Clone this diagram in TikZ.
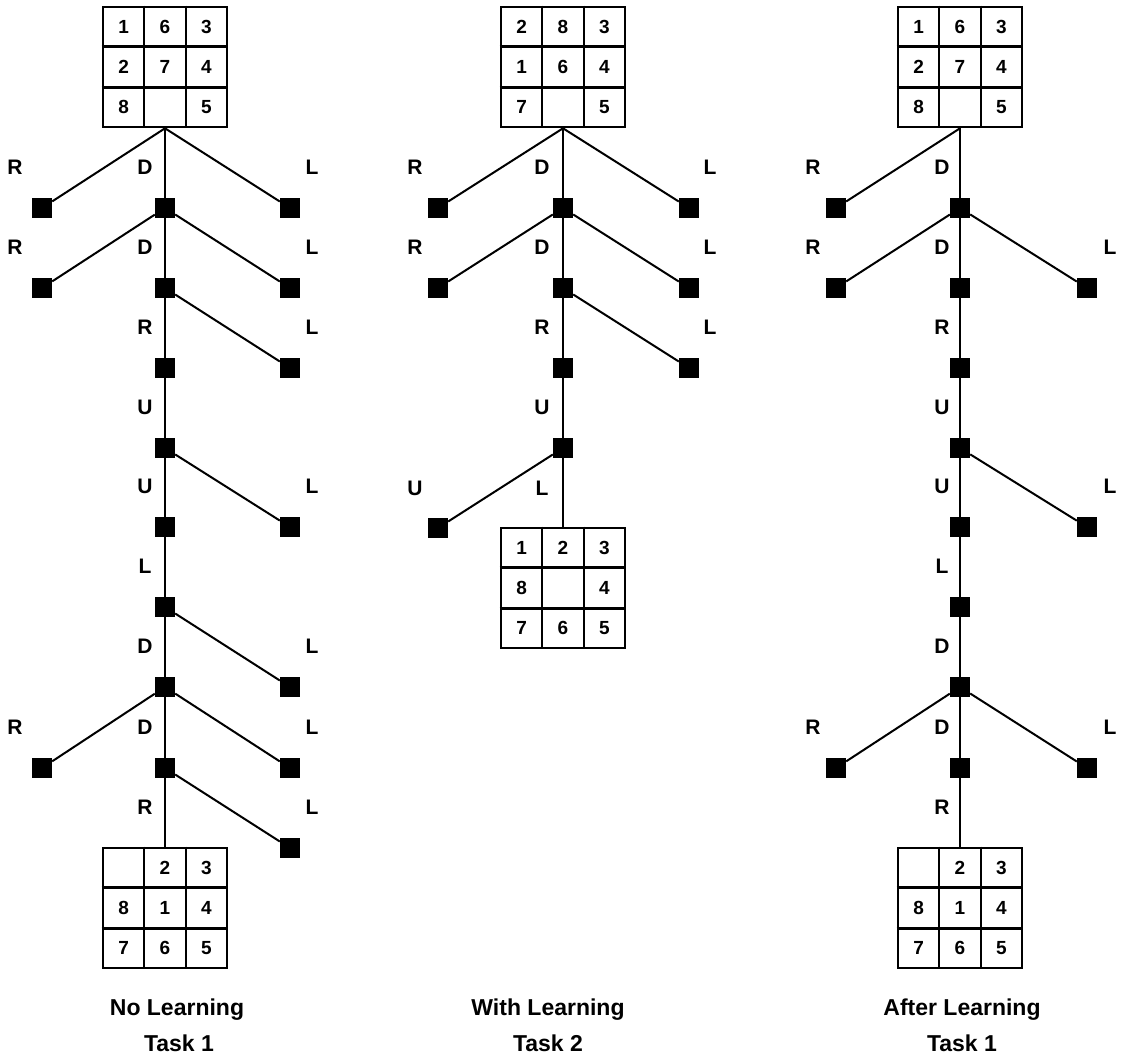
\documentclass[tikz,border=0pt]{standalone}
\usepackage{fontspec}
\setmainfont{Liberation Sans}
\usetikzlibrary{calc}
\tikzset{
 sq/.style={rectangle, fill=black, minimum size=20pt, inner sep=0pt},
 conn/.style={line width=2pt},
 mv/.style={font=\fontsize{21}{21}\selectfont\bfseries, inner sep=0pt},
 digit/.style={font=\fontsize{19}{19}\selectfont\bfseries, inner sep=0pt},
 gridbox/.style={draw, line width=2.6pt, minimum width=124pt, minimum height=120pt, inner sep=0pt},
 gridline/.style={line width=2.6pt},
 caption/.style={font=\fontsize{23}{23}\selectfont\bfseries, inner sep=0pt, anchor=base},
}
\newcommand\puzzle[4]{%
 \node[gridbox] (#1) at (#2,#3+60) {};
 \draw[gridline] ($(#1.north west)!1/3!(#1.north east)$) -- ($(#1.south west)!1/3!(#1.south east)$);
 \draw[gridline] ($(#1.north west)!2/3!(#1.north east)$) -- ($(#1.south west)!2/3!(#1.south east)$);
 \draw[gridline] ($(#1.north west)!1/3!(#1.south west)$) -- ($(#1.north east)!1/3!(#1.south east)$);
 \draw[gridline] ($(#1.north west)!2/3!(#1.south west)$) -- ($(#1.north east)!2/3!(#1.south east)$);
 \foreach \d [count=\i from 0] in {#4} {
   \pgfmathtruncatemacro\cc{mod(\i,3)}
   \pgfmathtruncatemacro\rr{int(\i/3)}
   \node[digit] (#1-\i) at (#2+\cc*41.33-41.33, #3+20+\rr*40) {\d};
 }
}
\begin{document}
\begin{tikzpicture}[x=1pt,y=-1pt]
\useasboundingbox (0,0) rectangle (1121,1060);
\fill[white] (0,0) rectangle (1121,1060);

% ---------------- Tree 1 ----------------
\puzzle{s1}{165}{7}{1,6,3,2,7,4,8,{},5}
\node[sq] (a1l) at (42,208) {};
\node[sq] (a1c) at (165,208) {};
\node[sq] (a1r) at (290,208) {};
\node[sq] (a2l) at (42,288) {};
\node[sq] (a2c) at (165,288) {};
\node[sq] (a2r) at (290,288) {};
\node[sq] (a3c) at (165,368) {};
\node[sq] (a3r) at (290,368) {};
\node[sq] (a4c) at (165,448) {};
\node[sq] (a5c) at (165,527) {};
\node[sq] (a5r) at (290,527) {};
\node[sq] (a6c) at (165,607) {};
\node[sq] (a7c) at (165,687) {};
\node[sq] (a7r) at (290,687) {};
\node[sq] (a8l) at (42,768) {};
\node[sq] (a8c) at (165,768) {};
\node[sq] (a8r) at (290,768) {};
\node[sq] (a9r) at (290,848) {};
\puzzle{g1}{165}{848}{{},2,3,8,1,4,7,6,5}

\draw[conn] (s1.south) -- (a1l);
\draw[conn] (s1.south) -- (a1c);
\draw[conn] (s1.south) -- (a1r);
\draw[conn] (a1c) -- (a2l);
\draw[conn] (a1c) -- (a2c);
\draw[conn] (a1c) -- (a2r);
\draw[conn] (a2c) -- (a3c);
\draw[conn] (a2c) -- (a3r);
\draw[conn] (a3c) -- (a4c);
\draw[conn] (a4c) -- (a5c);
\draw[conn] (a4c) -- (a5r);
\draw[conn] (a5c) -- (a6c);
\draw[conn] (a6c) -- (a7c);
\draw[conn] (a6c) -- (a7r);
\draw[conn] (a7c) -- (a8l);
\draw[conn] (a7c) -- (a8c);
\draw[conn] (a7c) -- (a8r);
\draw[conn] (a8c) -- (g1.north);
\draw[conn] (a8c) -- (a9r);

\node[mv] (ta1) at (15,167) {R};
\node[mv] (ta2) at (145,167) {D};
\node[mv] (ta3) at (312,167) {L};
\node[mv] (ta4) at (15,247) {R};
\node[mv] (ta5) at (145,247) {D};
\node[mv] (ta6) at (312,247) {L};
\node[mv] (ta7) at (145,327) {R};
\node[mv] (ta8) at (312,327) {L};
\node[mv] (ta9) at (145,407) {U};
\node[mv] (ta10) at (145,486) {U};
\node[mv] (ta11) at (312,486) {L};
\node[mv] (ta12) at (145,566) {L};
\node[mv] (ta13) at (145,646) {D};
\node[mv] (ta14) at (312,646) {L};
\node[mv] (ta15) at (15,727) {R};
\node[mv] (ta16) at (145,727) {D};
\node[mv] (ta17) at (312,727) {L};
\node[mv] (ta18) at (145,807) {R};
\node[mv] (ta19) at (312,807) {L};

\node[caption] (cap1a) at (177,1015) {No Learning};
\node[caption] (cap1b) at (179,1051) {Task 1};

% ---------------- Tree 2 ----------------
\puzzle{s2}{563}{7}{2,8,3,1,6,4,7,{},5}
\node[sq] (b1l) at (438,208) {};
\node[sq] (b1c) at (563,208) {};
\node[sq] (b1r) at (689,208) {};
\node[sq] (b2l) at (438,288) {};
\node[sq] (b2c) at (563,288) {};
\node[sq] (b2r) at (689,288) {};
\node[sq] (b3c) at (563,368) {};
\node[sq] (b3r) at (689,368) {};
\node[sq] (b4c) at (563,448) {};
\node[sq] (b5l) at (438,528) {};
\puzzle{g2}{563}{528}{1,2,3,8,{},4,7,6,5}

\draw[conn] (s2.south) -- (b1l);
\draw[conn] (s2.south) -- (b1c);
\draw[conn] (s2.south) -- (b1r);
\draw[conn] (b1c) -- (b2l);
\draw[conn] (b1c) -- (b2c);
\draw[conn] (b1c) -- (b2r);
\draw[conn] (b2c) -- (b3c);
\draw[conn] (b2c) -- (b3r);
\draw[conn] (b3c) -- (b4c);
\draw[conn] (b4c) -- (b5l);
\draw[conn] (b4c) -- (g2.north);

\node[mv] (tb1) at (415,167) {R};
\node[mv] (tb2) at (542,167) {D};
\node[mv] (tb3) at (710,167) {L};
\node[mv] (tb4) at (415,247) {R};
\node[mv] (tb5) at (542,247) {D};
\node[mv] (tb6) at (710,247) {L};
\node[mv] (tb7) at (542,327) {R};
\node[mv] (tb8) at (710,327) {L};
\node[mv] (tb9) at (542,407) {U};
\node[mv] (tb10) at (415,488) {U};
\node[mv] (tb11) at (542,488) {L};

\node[caption] (cap2a) at (548,1015) {With Learning};
\node[caption] (cap2b) at (548,1051) {Task 2};

% ---------------- Tree 3 ----------------
\puzzle{s3}{960}{7}{1,6,3,2,7,4,8,{},5}
\node[sq] (c1l) at (836,208) {};
\node[sq] (c1c) at (960,208) {};
\node[sq] (c2l) at (836,288) {};
\node[sq] (c2c) at (960,288) {};
\node[sq] (c2r) at (1087,288) {};
\node[sq] (c3c) at (960,368) {};
\node[sq] (c4c) at (960,448) {};
\node[sq] (c5c) at (960,527) {};
\node[sq] (c5r) at (1087,527) {};
\node[sq] (c6c) at (960,607) {};
\node[sq] (c7c) at (960,687) {};
\node[sq] (c8l) at (836,768) {};
\node[sq] (c8c) at (960,768) {};
\node[sq] (c8r) at (1087,768) {};
\puzzle{g3}{960}{848}{{},2,3,8,1,4,7,6,5}

\draw[conn] (s3.south) -- (c1l);
\draw[conn] (s3.south) -- (c1c);
\draw[conn] (c1c) -- (c2l);
\draw[conn] (c1c) -- (c2c);
\draw[conn] (c1c) -- (c2r);
\draw[conn] (c2c) -- (c3c);
\draw[conn] (c3c) -- (c4c);
\draw[conn] (c4c) -- (c5c);
\draw[conn] (c4c) -- (c5r);
\draw[conn] (c5c) -- (c6c);
\draw[conn] (c6c) -- (c7c);
\draw[conn] (c7c) -- (c8l);
\draw[conn] (c7c) -- (c8c);
\draw[conn] (c7c) -- (c8r);
\draw[conn] (c8c) -- (g3.north);

\node[mv] (tc1) at (813,167) {R};
\node[mv] (tc2) at (942,167) {D};
\node[mv] (tc4) at (813,247) {R};
\node[mv] (tc5) at (942,247) {D};
\node[mv] (tc6) at (1110,247) {L};
\node[mv] (tc7) at (942,327) {R};
\node[mv] (tc9) at (942,407) {U};
\node[mv] (tc10) at (942,486) {U};
\node[mv] (tc11) at (1110,486) {L};
\node[mv] (tc12) at (942,566) {L};
\node[mv] (tc13) at (942,646) {D};
\node[mv] (tc15) at (813,727) {R};
\node[mv] (tc16) at (942,727) {D};
\node[mv] (tc17) at (1110,727) {L};
\node[mv] (tc18) at (942,807) {R};

\node[caption] (cap3a) at (962,1015) {After Learning};
\node[caption] (cap3b) at (962,1051) {Task 1};
\end{tikzpicture}
\end{document}
